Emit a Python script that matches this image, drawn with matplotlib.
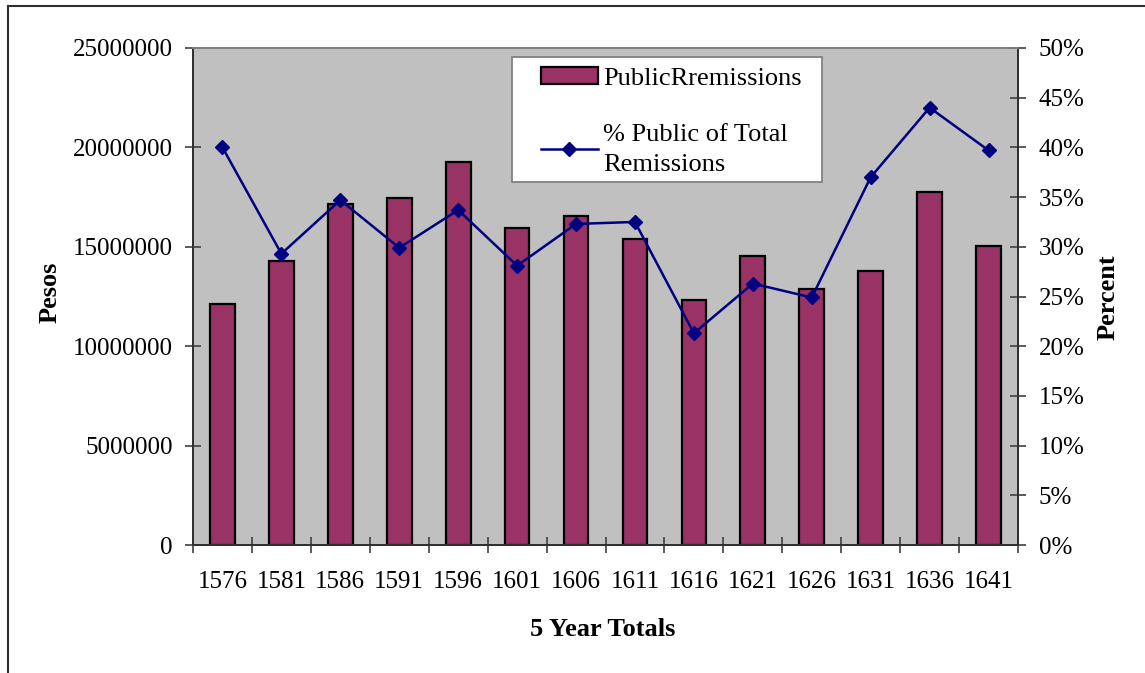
import matplotlib
matplotlib.use("Agg")
import matplotlib.pyplot as plt
from matplotlib.lines import Line2D
from matplotlib.patches import Patch, Rectangle
from matplotlib.ticker import FuncFormatter, MultipleLocator

# 5 year totals, public remissions (pesos) and public share of total (%)
years = ["1576", "1581", "1586", "1591", "1596", "1601", "1606",
         "1611", "1616", "1621", "1626", "1631", "1636", "1641"]
public_remissions = [12100000, 14300000, 17150000, 17450000, 19250000,
                     15950000, 16550000, 15400000, 12300000, 14550000,
                     12900000, 13800000, 17750000, 15050000]
pct_public = [40.0, 29.3, 34.7, 29.9, 33.7, 28.1, 32.3,
              32.5, 21.3, 26.3, 24.9, 37.0, 44.0, 39.7]

plt.rcParams['font.family'] = ['Liberation Serif', 'DejaVu Serif']
FS = 19      # axis titles, legend
TFS = 18     # tick labels

fig = plt.figure(figsize=(11.45, 6.73), dpi=100)
ax = fig.add_axes([193/1145, 1 - 545/673, 825/1145, 497/673])
ax2 = ax.twinx()

x = list(range(len(years)))
ax.set_facecolor('#C0C0C0')
ax.bar(x, public_remissions, width=0.42, color='#993366',
       edgecolor='black', linewidth=1.6, zorder=2)
ax2.plot(x, pct_public, color='#000080', linewidth=1.8, marker='D',
         markersize=7.5, zorder=3)

ax.set_xlim(-0.5, len(years) - 0.5)
ax.set_ylim(0, 25000000)
ax2.set_ylim(0, 50)

ax.yaxis.set_major_locator(MultipleLocator(5000000))
ax.yaxis.set_major_formatter(FuncFormatter(lambda v, p: f"{int(v)}"))
ax2.yaxis.set_major_locator(MultipleLocator(5))
ax2.yaxis.set_major_formatter(FuncFormatter(lambda v, p: f"{int(round(v))}%"))

ax.set_xticks(x)
ax.set_xticklabels(years)
ax.set_xticks([i - 0.5 for i in range(len(years) + 1)], minor=True)
ax.tick_params(axis='x', which='major', length=0, pad=19, labelsize=TFS)
ax.tick_params(axis='x', which='minor', direction='inout', length=11.5,
               width=1.2, color='#404040')
ax.tick_params(axis='y', direction='inout', length=11, width=1.2,
               color='#404040', pad=9, labelsize=TFS)
ax2.tick_params(axis='y', direction='inout', length=12, width=1.2,
                color='#404040', pad=9, labelsize=TFS)

for a in (ax, ax2):
    a.spines['top'].set_color('#808080')
    a.spines['left'].set_color('#303030')
    a.spines['right'].set_color('#303030')
    a.spines['bottom'].set_color('#303030')
    for s in a.spines.values():
        s.set_linewidth(1.3)

fig.text(50/1145, 1 - 292/673, 'Pesos', rotation=90, fontsize=FS,
         fontweight='bold', ha='center', va='center')
fig.text(1108/1145, 1 - 297/673, 'Percent', rotation=90, fontsize=FS,
         fontweight='bold', ha='center', va='center')
fig.text(603/1145, 1 - 630/673, '5 Year Totals', fontsize=FS,
         fontweight='bold', ha='center', va='center')

# legend: white box drawn separately, entries placed inside it
box = Rectangle(((512 - 193)/825, (545 - 182)/497), 310/825, 125/497,
                transform=ax2.transAxes, facecolor='white',
                edgecolor='#808080', linewidth=1.3, zorder=4.5)
ax2.add_patch(box)
handles = [Patch(facecolor='#993366', edgecolor='black', linewidth=1.6),
           Line2D([], [], color='#000080', linewidth=1.8, marker='D',
                  markersize=7.5)]
labels = ['PublicRremissions', '% Public of Total\nRemissions']
leg = ax2.legend(handles, labels, loc='upper left',
                 bbox_to_anchor=((541 - 193)/825, (545 - 67)/497),
                 fontsize=FS, frameon=False, handlelength=2.15,
                 handleheight=0.6, handletextpad=0.2, labelspacing=1.3,
                 borderpad=0, borderaxespad=0)
for t in leg.get_texts():
    t.set_linespacing(1.45)
leg.set_zorder(5)

# outer chart border (only left and top edges visible)
fig.add_artist(Line2D([8/1145, 8/1145], [0, 1 - 5.5/673],
                      transform=fig.transFigure, color='#303030', linewidth=1.5))
fig.add_artist(Line2D([8/1145, 1], [1 - 5.5/673, 1 - 5.5/673],
                      transform=fig.transFigure, color='#303030', linewidth=1.5))

fig.savefig('out.png', dpi=100, facecolor='white')
